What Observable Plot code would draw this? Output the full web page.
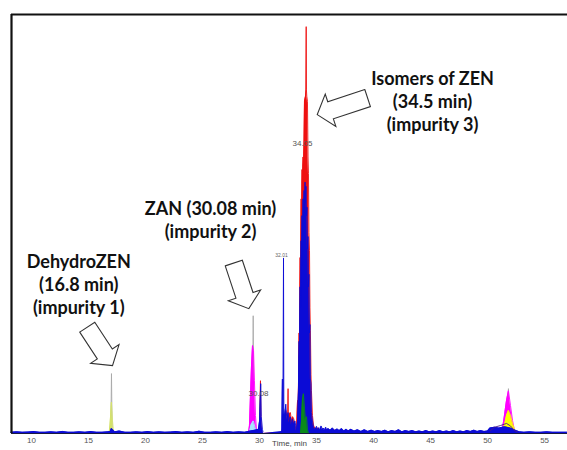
<!DOCTYPE html>
<html>
<head>
<meta charset="utf-8">
<script src="https://cdn.jsdelivr.net/npm/d3@7"></script>
<script src="https://cdn.jsdelivr.net/npm/@observablehq/plot@0.6"></script>
<style>
  html, body { margin: 0; padding: 0; background: white; overflow: hidden; }
</style>
</head>
<body>
<div id="chart"></div>
<script>
// ---------- data (time in min, relative intensity) ----------
const xTicks = [10, 15, 20, 25, 30, 35, 40, 45, 50, 55];

const greyTrace = [
  [16.95, 0], [17.01, 14.3], [17.07, 0], [17.1, null],
  [29.38, 0], [29.44, 28.1], [29.50, 0], [29.55, null],
  [51.78, 0], [51.83, 10.7], [51.88, 0]
];

const magentaTrace = [
  [29.02, 0], [29.11, 1.8], [29.20, 9], [29.29, 16], [29.38, 21], [29.47, 19.8],
  [29.55, 12.6], [29.64, 4.3], [29.73, 1], [29.80, 0], [29.85, null],
  [51.20, 0.4], [51.31, 1.2], [51.48, 4.3], [51.66, 7.9], [51.83, 10.2],
  [52.01, 6.7], [52.19, 3.1], [52.36, 0.7], [52.50, 0.3]
];

const yellowGreenTrace = [
  [16.80, 0], [16.88, 2], [16.95, 5], [17.00, 7.5], [17.05, 5.5], [17.10, 3], [17.16, 1.2], [17.25, 0]
];

const cyanTrace = [
  [29.10, 0], [29.25, 2], [29.45, 3], [29.60, 1.5], [29.75, 0], [29.8, null],
  [50.40, 0.5], [50.60, 1.0], [51.00, 0.9], [51.40, 1.0], [51.60, 0.4]
];

const yellowTrace = [
  [51.00, 0.3], [51.13, 0.7], [51.31, 1.2], [51.48, 1.9], [51.66, 4.3], [51.83, 5.5],
  [52.01, 4.3], [52.19, 2.4], [52.36, 1.0], [52.50, 0.3]
];

const redTrace = [
  [29.95, 0.3], [30.03, 2], [30.08, 12.6], [30.13, 2], [30.20, 0.3], [30.25, null],
  [31.95, 0.3], [32.10, 2], [32.20, 3], [32.30, 5.5], [32.40, 4], [32.47, 3],
  [32.50, 10.7], [32.53, 3], [32.60, 4.5], [32.70, 5], [32.80, 3], [32.90, 4],
  [33.00, 3.5], [33.10, 2], [33.20, 1], [33.24, 0.5], [33.33, 7.9], [33.37, 4], [33.41, 11],
  [33.46, 24], [33.50, 20], [33.55, 42], [33.59, 36], [33.64, 56], [33.68, 50], [33.72, 63],
  [33.76, 60], [33.81, 66], [33.85, 64], [33.90, 70], [33.94, 79.3],
  [34.03, 80.5], [34.07, 82], [34.09, 97.1], [34.11, 82], [34.14, 80.5], [34.20, 79.3],
  [34.25, 66], [34.29, 62], [34.33, 48], [34.38, 43.6], [34.42, 30], [34.46, 24.5],
  [34.51, 14], [34.55, 10.2], [34.64, 4.3], [34.73, 2],
  [34.90, 0.9], [35.10, 1.3], [35.30, 0.6], [35.50, 1.1], [35.70, 0.5], [35.90, 1.0],
  [36.20, 0.5], [36.50, 0.9], [36.80, 0.4], [37.10, 0.8], [37.40, 0.4], [37.80, 0.7],
  [38.20, 0.4], [38.60, 0.6], [39.00, 0.3], [39.50, 0.5], [40.00, 0.3], [40.60, 0.5],
  [41.20, 0.3], [41.90, 0.5], [42.60, 0.3], [43.30, 0.5], [44.00, 0.3], [44.80, 0.4],
  [45.60, 0.3], [46.40, 0.4], [47.20, 0.3], [48.00, 0.4], [48.80, 0.3], [49.60, 0.4], [50.0, 0.3]
];

const blueTrace = [
  [8.2, .3], [8.7, .4], [9.2, .3], [9.7, .35], [10.2, .45], [10.7, .3], [11.2, .3], [11.7, .4],
  [12.2, .3], [12.7, .5], [13.2, .3], [13.7, .3], [14.2, .4], [14.7, .3], [15.2, .45], [15.7, .3],
  [16.2, .3], [16.7, .4], [16.9, .5], [17.0, 1.2], [17.1, 1.0], [17.3, .4], [17.7, .6], [18.2, .3],
  [18.7, .3], [19.2, .4], [19.7, .3], [20.2, .45], [20.7, .3], [21.2, .4], [21.7, .3], [22.2, .35],
  [22.7, .45], [23.2, .3], [23.7, .4], [24.2, .3], [24.7, .55], [25.2, .3], [25.7, .3], [26.2, .4],
  [26.7, .3], [27.2, .45], [27.7, .3], [28.2, .4], [28.7, .3], [29.2, .6], [29.6, .8], [29.9, 1],
  [30.0, 3], [30.1, 11.9], [30.15, 4], [30.25, 1], [30.3, .4], [30.35, null],
  [31.95, .5], [32.0, 13], [32.03, 4], [32.07, 5], [32.1, 41.9], [32.13, 6], [32.2, 4], [32.3, 7],
  [32.4, 3], [32.5, 5], [32.6, 2.5], [32.7, 4], [32.8, 2], [32.9, 3.5], [33.0, 2], [33.1, 3],
  [33.2, 1.5], [33.24, 0.5], [33.33, 3], [33.41, 10], [33.46, 22], [33.50, 18], [33.55, 35],
  [33.59, 30], [33.64, 46], [33.68, 40], [33.72, 52], [33.76, 45], [33.81, 56], [33.85, 50],
  [33.90, 58], [33.94, 53], [33.99, 60], [34.03, 55], [34.07, 59], [34.12, 52], [34.16, 54],
  [34.20, 44], [34.25, 47], [34.29, 35], [34.33, 38], [34.38, 24], [34.42, 26], [34.46, 13],
  [34.51, 12], [34.55, 5], [34.64, 3], [34.73, 1.6], [34.82, 1.1], [34.9, 1.0],
  [35.0, 1.7], [35.1, 0.8], [35.2, 1.4], [35.3, 0.7], [35.4, 1.8], [35.5, 0.9], [35.6, 1.3],
  [35.7, 0.7], [35.8, 1.5], [35.9, 0.7], [36.0, 1.2], [36.2, 0.8], [36.4, 1.3], [36.6, 0.7],
  [36.8, 1.1], [37.0, 0.7], [37.2, 1.2], [37.4, 0.6], [37.6, 1.0], [37.8, 0.6], [38.0, 1.0],
  [38.3, 0.6], [38.6, 0.9], [38.9, 0.5], [39.2, 0.9], [39.5, 0.5], [39.8, 0.8], [40.1, 0.5],
  [40.4, 0.7], [40.7, 0.5], [41.0, 0.8], [41.3, 0.4], [41.6, 0.7], [41.9, 0.5], [42.2, 0.9],
  [42.5, 0.4], [42.8, 0.7], [43.1, 0.5], [43.4, 0.7], [43.7, 0.4], [44.0, 0.6], [44.3, 0.4],
  [44.6, 0.7], [44.9, 0.4], [45.2, 0.6], [45.5, 0.4], [45.8, 0.7], [46.1, 0.4], [46.4, 0.6],
  [46.7, 0.4], [47.0, 0.7], [47.3, 0.4], [47.6, 0.6], [47.9, 0.4], [48.2, 0.7], [48.5, 0.5],
  [48.8, 0.8], [49.1, 0.5], [49.4, 0.7], [49.7, 0.5], [50.0, 0.6], [50.2, 1.3], [50.6, 1.5],
  [51.0, 1.3], [51.5, 1.6], [52.0, 1.3], [52.5, 0.7], [52.8, 0.4], [53.2, 0.3], [53.7, 0.4],
  [54.2, 0.3], [54.7, 0.3], [55.2, 0.4], [55.7, 0.3], [56.2, 0.3], [56.7, 0.3], [57.0, 0.3]
];

const greenTrace = [
  [33.60, 0], [33.68, 3], [33.76, 8], [33.85, 9.5], [33.94, 6], [34.03, 3], [34.12, 4], [34.20, 1], [34.30, 0]
];

const purpleTrace = [
  [50.26, 0.7], [50.61, 1.5], [51.13, 1.9], [51.66, 2.4], [52.01, 1.8], [52.36, 0.7], [52.60, 0.4]
];

// annotations
const annoText = ["DehydroZEN\n(16.8 min)\n(impurity 1)", "ZAN (30.08 min)\n(impurity 2)", "Isomers of ZEN\n(34.5 min)\n(impurity 3)"];
const annoT = [14.14, 25.70, 45.17];
const annoV = [35.7, 51.2, 79.5];

const peakLabels = ["34.05", "30.08"];
const peakLabelT = [33.77, 29.91];
const peakLabelV = [69.2, 9.5];
const smallLabel = ["32.01"];
const smallLabelT = [31.92];
const smallLabelV = [42.6];

const arrowTipT = [17.10, 29.06, 35.06];
const arrowTipV = [16.2, 29.8, 76.1];
const arrowAngle = [56.7, 71.7, 161.8];   // screen direction, degrees
const arrowLength = [46, 48, 53];         // px

// ---------- layout ----------
const W = 567, H = 450, ML = 11, MR = 0, MT = 14, MB = 17;
const xDomain = [8.24, 57.01], yDomain = [0, 100];
const kx = (W - ML - MR) / (xDomain[1] - xDomain[0]);
const ky = (H - MT - MB) / (yDomain[1] - yDomain[0]);
const toPx = (t, v) => [ML + (t - xDomain[0]) * kx, H - MB - (v - yDomain[0]) * ky];
const toData = (X, Y) => [xDomain[0] + (X - ML) / kx, yDomain[0] + (H - MB - Y) / ky];

const arrowRows = [];
arrowTipT.forEach((t, i) => {
  const [tx, ty] = toPx(t, arrowTipV[i]);
  const a = arrowAngle[i] * Math.PI / 180;
  const ux = Math.cos(a), uy = Math.sin(a), nx = -uy, ny = ux;
  const L = arrowLength[i], hl = 14, sw = 9, hw = 17;
  const pts = [
    [tx - ux * L + nx * sw, ty - uy * L + ny * sw],
    [tx - ux * hl + nx * sw, ty - uy * hl + ny * sw],
    [tx - ux * hl + nx * hw, ty - uy * hl + ny * hw],
    [tx, ty],
    [tx - ux * hl - nx * hw, ty - uy * hl - ny * hw],
    [tx - ux * hl - nx * sw, ty - uy * hl - ny * sw],
    [tx - ux * L - nx * sw, ty - uy * L - ny * sw],
    [tx - ux * L + nx * sw, ty - uy * L + ny * sw]
  ];
  pts.forEach(([X, Y]) => { const [dt, dv] = toData(X, Y); arrowRows.push({t: dt, v: dv, id: i}); });
});

const rowsOf = (arr) => arr.map(([t, v]) => ({t, v}));

const series = [
  [greyTrace, "#a8a8a8", false],
  [magentaTrace, "#ff00ff", true],
  [yellowGreenTrace, "#d5e26a", true],
  [cyanTrace, "#a8e6ff", true],
  [yellowTrace, "#ffff00", true],
  [redTrace, "#ee1111", true],
  [blueTrace, "#0b0bd6", true],
  [greenTrace, "#0a8a1a", true],
  [purpleTrace, "#4a1a8a", false]
];

const marks = [];
for (const [arr, color, filled] of series) {
  const rows = rowsOf(arr);
  if (filled) marks.push(Plot.areaY(rows, {x: "t", y: "v", fill: color, curve: "linear"}));
  marks.push(Plot.lineY(rows, {x: "t", y: "v", stroke: color, strokeWidth: 0.9, curve: "linear"}));
}

marks.push(
  Plot.ruleY([yDomain[0]], {stroke: "#1a1a40", strokeWidth: 1}),
  Plot.ruleX([xDomain[0]], {stroke: "#111", strokeWidth: 2.2}),
  Plot.ruleY([yDomain[1]], {stroke: "#111", strokeWidth: 2.2}),
  Plot.text(peakLabels, {x: (d, i) => peakLabelT[i], y: (d, i) => peakLabelV[i], text: d => d, fontSize: 8, fill: "#555"}),
  Plot.text(smallLabel, {x: (d, i) => smallLabelT[i], y: (d, i) => smallLabelV[i], text: d => d, fontSize: 5, fill: "#666"}),
  Plot.line(arrowRows, {x: "t", y: "v", z: "id", fill: "white", stroke: "#333", strokeWidth: 1.1, strokeLinejoin: "miter", strokeMiterlimit: 10, curve: "linear"}),
  Plot.text(annoText, {x: (d, i) => annoT[i], y: (d, i) => annoV[i], text: d => d, fontSize: 18, fontWeight: "bold", fontFamily: "Lato", fill: "#111", lineHeight: 1.28, textAnchor: "middle"}),
  Plot.text(["Time, min"], {frameAnchor: "bottom", dy: 12.5, fontSize: 8, fill: "#444"})
);

const plot = Plot.plot({
  width: W, height: H,
  marginLeft: ML, marginRight: MR, marginTop: MT, marginBottom: MB,
  style: {fontFamily: "Liberation Sans, Arial, sans-serif", fontSize: "8px", color: "#555", background: "white"},
  x: {domain: xDomain, ticks: xTicks, tickSize: 0, tickPadding: 4, tickFormat: d => String(d), label: null},
  y: {domain: yDomain, axis: null},
  marks
});
document.getElementById("chart").appendChild(plot);
</script>
</body>
</html>
